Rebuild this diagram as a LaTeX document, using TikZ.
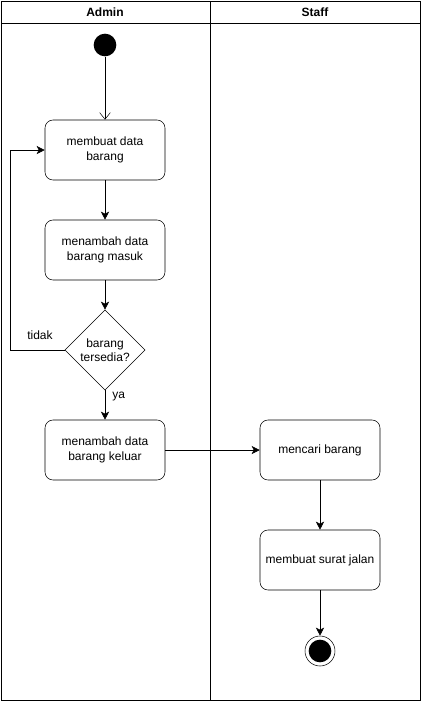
\documentclass[tikz,border=0pt]{standalone}
\usepackage{fontspec}
\setmainfont{Liberation Sans}
\usetikzlibrary{positioning,arrows.meta,shapes.geometric}

\begin{document}
\begin{tikzpicture}[x=0.75pt,y=-0.75pt,font=\fontsize{9}{10.8}\selectfont,align=center]
    \tikzstyle{act}=[draw,rounded corners=6pt,minimum width=90pt,minimum height=45pt]
    \tikzstyle{flow}=[-{Stealth[length=6pt,width=6pt,inset=1.5pt]}]
    \useasboundingbox (0,0) rectangle (421,701);
    % lanes
    \draw (1,1) rectangle (420,700);
    \draw (1,23) -- (420,23);
    \draw (210,1) -- (210,700);
    \node[font=\fontsize{9}{10.8}\selectfont\bfseries] (admin) at (105,12) {Admin};
    \node[font=\fontsize{9}{10.8}\selectfont\bfseries] (staff) at (315,12) {Staff};

    \node[circle,fill=black,minimum size=17pt,inner sep=0pt] (start) at (105,45) {};
    \node[act] (buat) at (105,150) {membuat data\\barang};
    \node[act] (masuk) at (105,250) {menambah data\\barang masuk};
    \node[draw,diamond,aspect=1,inner sep=0pt,minimum size=60pt] (cek) at (105,350) {barang\\tersedia?};
    \node[act] (keluar) at (105,450) {menambah data\\barang keluar};
    \node[act] (cari) at (320,450) {mencari barang};
    \node[act] (surat) at (320,560) {membuat surat jalan};
    \node[circle,draw,minimum size=22.5pt,inner sep=0pt] (stop) at (320,651) {};
    \node[circle,fill=black,minimum size=17pt,inner sep=0pt] at (stop) {};

    \draw[-{Straight Barb[length=5pt,width=8pt]}] (start) -- (buat);
    \draw[flow] (buat) -- (masuk);
    \draw[flow] (masuk) -- (cek);
    \draw[flow] (cek) -- node[pos=0.2,right=2pt] {ya} (keluar);
    \draw[flow] (cek.west) -- (10,350) |- (buat.west);
    \node (tidak) at (40,335) {tidak};
    \draw[flow] (keluar) -- (cari);
    \draw[flow] (cari) -- (surat);
    \draw[flow] (surat) -- (stop);
\end{tikzpicture}
\end{document}
